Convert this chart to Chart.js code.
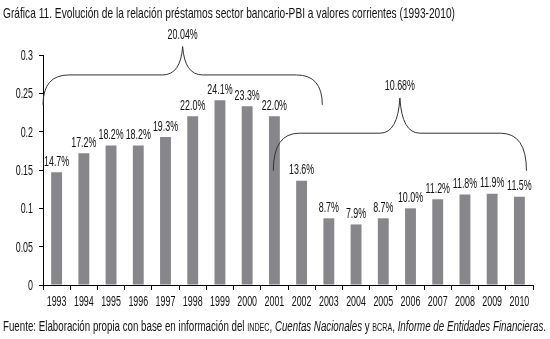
<!DOCTYPE html>
<html>
<head>
<meta charset="utf-8">
<script src="https://cdn.jsdelivr.net/npm/chart.js@4.4.1/dist/chart.umd.min.js"></script>
<style>
  html, body { margin: 0; padding: 0; background: #fff; }
  body { width: 550px; height: 339px; position: relative; overflow: hidden;
         font-family: "Liberation Sans", Arial, sans-serif; color: #111; }
  #wrap { position: absolute; left: 0; top: 0; width: 550px; height: 339px; }
  .txt { position: absolute; left: 3px; white-space: nowrap; transform-origin: 0 50%; line-height: 1; }
  #title { top: 5px; font-size: 15px; }
  #foot { top: 318px; font-size: 15px; }
  .sc { font-size: 11px; }
</style>
</head>
<body>
<div id="wrap"><canvas id="c" width="550" height="339"></canvas></div>
<div id="title" class="txt" data-w="452">Gráfica 11. Evolución de la relación préstamos sector bancario-PBI a valores corrientes (1993-2010)</div>
<div id="foot" class="txt" data-w="543">Fuente: Elaboración propia con base en información del <span class="sc">INDEC</span>, <i>Cuentas Nacionales</i> y <span class="sc">BCRA</span>, <i>Informe de Entidades Financieras</i>.</div>
<script>
const years = ['1993','1994','1995','1996','1997','1998','1999','2000','2001','2002','2003','2004','2005','2006','2007','2008','2009','2010'];
const ratio = [0.147,0.172,0.182,0.182,0.193,0.220,0.241,0.233,0.220,0.136,0.087,0.079,0.087,0.100,0.112,0.118,0.119,0.115];
const valueLabels = ['14.7%','17.2%','18.2%','18.2%','19.3%','22.0%','24.1%','23.3%','22.0%','13.6%','8.7%','7.9%','8.7%','10.0%','11.2%','11.8%','11.9%','11.5%'];
const yTicks = [0,0.05,0.1,0.15,0.2,0.25,0.3];
const yTickLabels = ['0','0.05','0.1','0.15','0.2','0.25','0.3'];
// Period averages shown with braces
const braceLabels = ['20.04%','10.68%'];
const braceFrom = [-0.5, 7.96];
const braceTo = [9.76, 17.26];
const braceEndY = [0.235, 0.149];
const braceMidY = [0.274, 0.198];
const bracePeakY = [0.311, 0.244];

// fit HTML texts to their target widths (condensed look)
document.querySelectorAll('.txt').forEach(el => {
  const w = el.getBoundingClientRect().width;
  el.style.transform = 'scaleX(' + (parseFloat(el.dataset.w) / w) + ')';
});

const FONT = '13.8px "Liberation Sans", Arial, sans-serif';
const SX = 0.645;

function drawText(ctx, text, x, y, align) {
  ctx.save();
  ctx.font = FONT;
  ctx.fillStyle = '#111';
  ctx.textBaseline = 'alphabetic';
  ctx.textAlign = 'left';
  const w = ctx.measureText(text).width * SX;
  const left = align === 'center' ? x - w / 2 : (align === 'right' ? x - w : x);
  ctx.translate(left, y);
  ctx.scale(SX, 1);
  ctx.fillText(text, 0, 0);
  ctx.restore();
}

const textPlugin = {
  id: 'texts',
  afterDraw(chart) {
    const ctx = chart.ctx;
    const xs = chart.scales.x, ys = chart.scales.y;
    const meta = chart.getDatasetMeta(0);
    meta.data.forEach((bar, i) => drawText(ctx, valueLabels[i], bar.x, bar.y - 6.5, 'center'));
    years.forEach((yr, i) => drawText(ctx, yr, xs.getPixelForValue(i), xs.top + 21, 'center'));
    yTicks.forEach((v, i) => drawText(ctx, yTickLabels[i], ys.right - 10, ys.getPixelForValue(v) + 5, 'right'));
  }
};

const bracePlugin = {
  id: 'braces',
  afterDraw(chart) {
    const ctx = chart.ctx;
    const xs = chart.scales.x, ys = chart.scales.y;
    ctx.save();
    ctx.strokeStyle = '#333';
    ctx.lineWidth = 1;
    for (let k = 0; k < braceLabels.length; k++) {
      const x0 = xs.getPixelForValue(braceFrom[k]);
      const x1 = xs.getPixelForValue(braceTo[k]);
      const xm = (x0 + x1) / 2;
      const ye = ys.getPixelForValue(braceEndY[k]);
      const yh = ys.getPixelForValue(braceMidY[k]);
      const yp = ys.getPixelForValue(bracePeakY[k]);
      const r = 26, r2 = 20;
      ctx.beginPath();
      ctx.moveTo(x0, ye);
      ctx.quadraticCurveTo(x0, yh, x0 + r, yh);
      ctx.lineTo(xm - r2, yh);
      ctx.quadraticCurveTo(xm - 2, yh, xm, yp);
      ctx.quadraticCurveTo(xm + 2, yh, xm + r2, yh);
      ctx.lineTo(x1 - r, yh);
      ctx.quadraticCurveTo(x1, yh, x1, ye);
      ctx.stroke();
      drawText(ctx, braceLabels[k], xm, yp - 8, 'center');
    }
    ctx.restore();
  }
};

new Chart(document.getElementById('c'), {
  type: 'bar',
  data: {
    labels: years,
    datasets: [{
      data: ratio,
      backgroundColor: '#87878b',
      borderWidth: 0,
      barPercentage: 0.4,
      categoryPercentage: 1.0
    }]
  },
  options: {
    responsive: false,
    animation: false,
    devicePixelRatio: 1,
    layout: { padding: { top: 55, right: 17, bottom: 24, left: 0 } },
    plugins: { legend: { display: false }, tooltip: { enabled: false }, title: { display: false } },
    scales: {
      x: {
        grid: { display: true, drawOnChartArea: false, drawTicks: true, tickLength: 5, color: '#000', offset: true },
        border: { color: '#000', width: 1 },
        ticks: { display: false },
        afterFit(s) { s.height = 30; }
      },
      y: {
        min: 0, max: 0.3,
        afterBuildTicks(s) { s.ticks = yTicks.map(v => ({ value: v })); },
        grid: { display: true, drawOnChartArea: false, drawTicks: true, tickLength: 4, color: '#000' },
        border: { color: '#000', width: 1 },
        ticks: { display: false },
        afterFit(s) { s.width = 43; }
      }
    }
  },
  plugins: [textPlugin, bracePlugin]
});
</script>
</body>
</html>
